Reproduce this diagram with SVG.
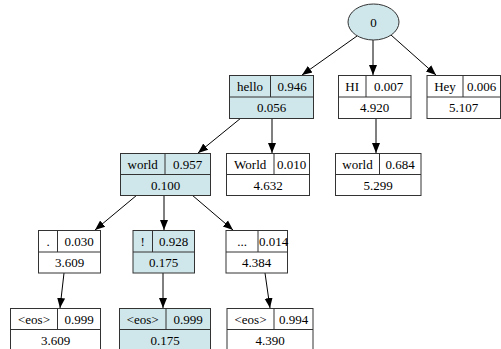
<svg xmlns="http://www.w3.org/2000/svg" width="501" height="349" viewBox="0 0 501 349" font-family="Liberation Serif, Times New Roman, DejaVu Serif, serif">
<style>
.box{fill:#ffffff;stroke:#333;stroke-width:1}
.sel{fill:#cfe7eb}
.ln{stroke:#333;stroke-width:1}
text{font-size:13px;fill:#000;text-anchor:middle}
.edge{stroke:#000;stroke-width:1;fill:none;marker-end:url(#ah)}
</style>
<defs>
<marker id="ah" markerUnits="userSpaceOnUse" markerWidth="12" markerHeight="10" viewBox="0 -5 12 10" refX="10" refY="0" orient="auto">
<path d="M0,-4 L10,0 L0,4 Z" fill="#000"/>
</marker>
</defs>
<rect width="501" height="349" fill="#ffffff"/>
<g id="connectors">
<line class="edge" x1="357" y1="36" x2="302" y2="75"/>
<line class="edge" x1="373" y1="40" x2="373" y2="75"/>
<line class="edge" x1="391" y1="35" x2="436" y2="75"/>
<line class="edge" x1="241" y1="118" x2="198" y2="153"/>
<line class="edge" x1="272" y1="118" x2="272" y2="153"/>
<line class="edge" x1="376" y1="118" x2="376" y2="153"/>
<line class="edge" x1="137" y1="195" x2="95" y2="230"/>
<line class="edge" x1="164" y1="195" x2="164" y2="230"/>
<line class="edge" x1="192" y1="195" x2="233" y2="230"/>
<line class="edge" x1="64" y1="273" x2="60" y2="308"/>
<line class="edge" x1="163" y1="273" x2="163" y2="308"/>
<line class="edge" x1="265" y1="273" x2="270" y2="308"/>
</g>
<g id="n0">
<ellipse cx="373.5" cy="22" rx="25.5" ry="18" class="box sel"/>
<text x="373.5" y="26.5">0</text>
</g>
<g id="n_hello">
<rect x="229.5" y="75.5" width="84" height="43" class="box sel"/>
<line class="ln" x1="229.5" y1="97" x2="313.5" y2="97"/>
<line class="ln" x1="270.5" y1="75.5" x2="270.5" y2="97"/>
<text x="250" y="90.5">hello</text><text x="292" y="90.5">0.946</text>
<text x="271.5" y="112">0.056</text>
</g>
<g id="n_HI">
<rect x="338.5" y="75.5" width="72.5" height="43" class="box"/>
<line class="ln" x1="338.5" y1="97" x2="411" y2="97"/>
<line class="ln" x1="366" y1="75.5" x2="366" y2="97"/>
<text x="352.2" y="90.5">HI</text><text x="388.5" y="90.5">0.007</text>
<text x="374.7" y="112">4.920</text>
</g>
<g id="n_Hey">
<rect x="427" y="75.5" width="73.5" height="43" class="box"/>
<line class="ln" x1="427" y1="97" x2="500.5" y2="97"/>
<line class="ln" x1="463" y1="75.5" x2="463" y2="97"/>
<text x="445" y="90.5">Hey</text><text x="481.7" y="90.5">0.006</text>
<text x="463.7" y="112">5.107</text>
</g>
<g id="n_world1">
<rect x="120.5" y="153.5" width="90" height="42" class="box sel"/>
<line class="ln" x1="120.5" y1="174.5" x2="210.5" y2="174.5"/>
<line class="ln" x1="165" y1="153.5" x2="165" y2="174.5"/>
<text x="142.7" y="168.5">world</text><text x="187.7" y="168.5">0.957</text>
<text x="165.5" y="189.5">0.100</text>
</g>
<g id="n_World">
<rect x="226.5" y="153.5" width="83" height="42" class="box"/>
<line class="ln" x1="226.5" y1="174.5" x2="309.5" y2="174.5"/>
<line class="ln" x1="274" y1="153.5" x2="274" y2="174.5"/>
<text x="250.2" y="168.5">World</text><text x="291.7" y="168.5">0.010</text>
<text x="268" y="189.5">4.632</text>
</g>
<g id="n_world2">
<rect x="335.5" y="153.5" width="85.5" height="42" class="box"/>
<line class="ln" x1="335.5" y1="174.5" x2="421" y2="174.5"/>
<line class="ln" x1="379.5" y1="153.5" x2="379.5" y2="174.5"/>
<text x="357.5" y="168.5">world</text><text x="400.2" y="168.5">0.684</text>
<text x="378.2" y="189.5">5.299</text>
</g>
<g id="n_dot">
<rect x="38.5" y="230.5" width="62" height="42.5" class="box"/>
<line class="ln" x1="38.5" y1="252" x2="100.5" y2="252"/>
<line class="ln" x1="57.5" y1="230.5" x2="57.5" y2="252"/>
<text x="48" y="245.5">.</text><text x="79" y="245.5">0.030</text>
<text x="69.5" y="267">3.609</text>
</g>
<g id="n_excl">
<rect x="133" y="230.5" width="61.5" height="42.5" class="box sel"/>
<line class="ln" x1="133" y1="252" x2="194.5" y2="252"/>
<line class="ln" x1="152.5" y1="230.5" x2="152.5" y2="252"/>
<text x="142.7" y="245.5">!</text><text x="173.5" y="245.5">0.928</text>
<text x="163.7" y="267">0.175</text>
</g>
<g id="n_ellip">
<rect x="226" y="230.5" width="61.5" height="42.5" class="box"/>
<line class="ln" x1="226" y1="252" x2="287.5" y2="252"/>
<line class="ln" x1="258" y1="230.5" x2="258" y2="252"/>
<text x="242" y="245.5">...</text><text x="273.5" y="245.5">0.014</text>
<text x="256.7" y="267">4.384</text>
</g>
<g id="n_eos1">
<rect x="10.5" y="308.5" width="90" height="43" class="box"/>
<line class="ln" x1="10.5" y1="329.5" x2="100.5" y2="329.5"/>
<line class="ln" x1="57.5" y1="308.5" x2="57.5" y2="329.5"/>
<text x="34" y="323.5">&lt;eos&gt;</text><text x="79" y="323.5">0.999</text>
<text x="55.5" y="344.5">3.609</text>
</g>
<g id="n_eos2">
<rect x="119.5" y="308.5" width="91" height="43" class="box sel"/>
<line class="ln" x1="119.5" y1="329.5" x2="210.5" y2="329.5"/>
<line class="ln" x1="166" y1="308.5" x2="166" y2="329.5"/>
<text x="142.7" y="323.5">&lt;eos&gt;</text><text x="188.2" y="323.5">0.999</text>
<text x="165" y="344.5">0.175</text>
</g>
<g id="n_eos3">
<rect x="227" y="308.5" width="86" height="43" class="box"/>
<line class="ln" x1="227" y1="329.5" x2="313" y2="329.5"/>
<line class="ln" x1="274" y1="308.5" x2="274" y2="329.5"/>
<text x="250.5" y="323.5">&lt;eos&gt;</text><text x="293.5" y="323.5">0.994</text>
<text x="270" y="344.5">4.390</text>
</g>
</svg>
